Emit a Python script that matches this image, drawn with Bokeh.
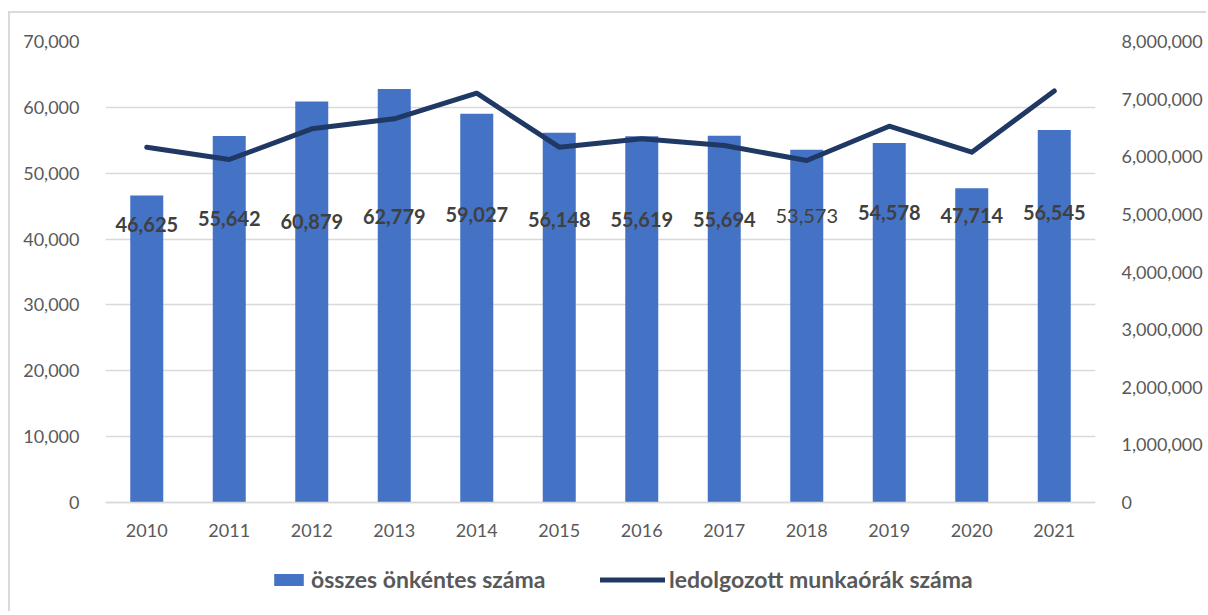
from bokeh.plotting import figure
from bokeh.models import (FactorRange, Range1d, LinearAxis, NumeralTickFormatter,
                          ColumnDataSource, Legend, LegendItem, SingleIntervalTicker)
from bokeh.core.properties import value
from bokeh.embed import file_html
from bokeh.resources import INLINE

# ---- data ----
years = ["2010", "2011", "2012", "2013", "2014", "2015",
         "2016", "2017", "2018", "2019", "2020", "2021"]
volunteers = [46625, 55642, 60879, 62779, 59027, 56148,
              55619, 55694, 53573, 54578, 47714, 56545]
work_hours = [6166000, 5952000, 6485000, 6659000, 7103000, 6166000,
              6312000, 6195000, 5935000, 6530000, 6079000, 7141000]
left_max = 70000
right_max = 8000000
bar_name = "összes önkéntes száma"
line_name = "ledolgozott munkaórák száma"

# ---- styles ----
FONT = "Lato"
BAR_COLOR = "#4472C4"
LINE_COLOR = "#1F3864"
GRID = "#D9D9D9"
TICK_COLOR = "#595959"
LABEL_COLOR = "#404040"

label_styles = ["bold"] * 8 + ["normal"] + ["bold"] * 3
label_offsets = [7, 1, 4, -1, -3, 2, 2, 2, -1, -5, -2, -5]
label_y_level = 43300

# layout (pixels inside the canvas)
W, H = 1198, 600
TOP_PX, ZERO_PX = 28, 489          # where the max and 0 of the value axes sit
extra = (H - ZERO_PX) / (ZERO_PX - TOP_PX)   # frame continues below 0 for the legend

src = ColumnDataSource(dict(
    year=years, vol=volunteers, hrs=work_hours,
    txt=[f"{v:,}" for v in volunteers],
    lbl_y=[label_y_level] * len(years),
    style=label_styles, yoff=label_offsets,
))

p = figure(
    x_range=FactorRange(*years, range_padding=0),
    y_range=Range1d(-left_max * extra, left_max),
    width=W, height=H,
    min_border_left=95, min_border_right=113,
    min_border_top=TOP_PX, min_border_bottom=0,
    output_backend="svg", toolbar_location=None,
)
p.styles = {"border-top": "2px solid #D9D9D9", "border-left": "2px solid #D9D9D9",
            "margin-top": "11px", "margin-left": "8px"}
p.outline_line_color = None
p.background_fill_color = "white"
p.border_fill_color = "white"

p.extra_y_ranges = {"hours": Range1d(-right_max * extra, right_max)}

bars = p.vbar(x="year", top="vol", width=0.4, source=src,
              fill_color=BAR_COLOR, line_color=None)
ln = p.line(x="year", y="hrs", source=src, y_range_name="hours",
            line_color=LINE_COLOR, line_width=5, line_cap="round", line_join="round")

p.text(x="year", y="lbl_y", text="txt", source=src,
       text_font=value(FONT), text_font_size="20px", text_font_style="style",
       text_color=LABEL_COLOR, text_align="center", text_baseline="middle",
       y_offset="yoff")

# axes
left = p.yaxis[0]
left.ticker = SingleIntervalTicker(interval=10000)
left.formatter = NumeralTickFormatter(format="0,0")
left.bounds = (0, left_max)

right = LinearAxis(y_range_name="hours", formatter=NumeralTickFormatter(format="0,0"),
                   ticker=SingleIntervalTicker(interval=1000000), bounds=(0, right_max))
p.add_layout(right, "right")

for ax in (left, right):
    ax.axis_line_color = None
    ax.major_tick_line_color = None
    ax.minor_tick_line_color = None
    ax.major_label_text_font = FONT
    ax.major_label_text_font_size = "18px"
    ax.major_label_text_color = TICK_COLOR
    ax.major_label_standoff = 20

xa = p.xaxis[0]
xa.fixed_location = 0
xa.axis_line_color = GRID
xa.axis_line_width = 1.5
xa.major_tick_line_color = None
xa.minor_tick_line_color = None
xa.major_label_text_font = FONT
xa.major_label_text_font_size = "18px"
xa.major_label_text_color = TICK_COLOR
xa.major_label_standoff = 15

p.xgrid.grid_line_color = None
p.ygrid.grid_line_color = GRID
p.ygrid.grid_line_width = 1.5
p.ygrid.bounds = (0, left_max)

# legends (two separate ones so each keeps its own glyph width)
def make_legend(item, x, y, gw):
    lg = Legend(items=[item], location=(x, y), orientation="horizontal",
                glyph_width=gw, glyph_height=15, label_standoff=4,
                padding=0, margin=0, spacing=0,
                border_line_color=None, background_fill_alpha=0,
                label_text_font=FONT, label_text_font_size="23px",
                label_text_font_style="bold", label_text_color=TICK_COLOR)
    p.add_layout(lg, "center")

make_legend(LegendItem(label=bar_name, renderers=[bars]), 165, 20, 37)
make_legend(LegendItem(label=line_name, renderers=[ln]), 495, 20, 65)

open("out.html", "w").write(file_html(p, INLINE))
